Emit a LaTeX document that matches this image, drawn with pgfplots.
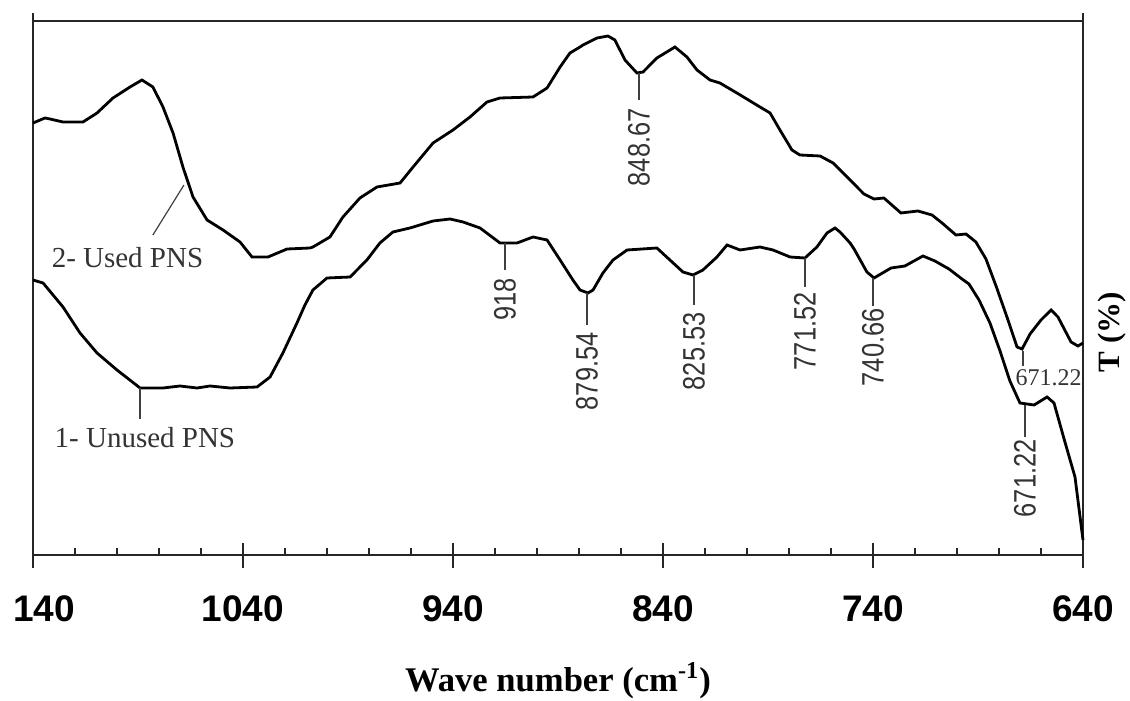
\documentclass[border=0pt]{standalone}
\usepackage{fontspec}
\setmainfont{Liberation Serif}
\newfontfamily\tickfont{Liberation Sans}
\newfontfamily\peakfont[FakeStretch=0.82]{Liberation Sans}
\usepackage{pgfplots}
\pgfplotsset{compat=1.18}
\begin{document}
\begin{tikzpicture}
\path[use as bounding box] (-16.5pt,-73pt) rectangle (548.5pt,277.5pt);
\begin{axis}[
  at={(0pt,0pt)}, anchor=south west,
  scale only axis, width=525pt, height=271pt,
  xmin=640, xmax=1140, ymin=0, ymax=542, x dir=reverse,
  axis x line*=bottom, axis y line*=box,
  xtick={640,740,840,940,1040,1140},
  xticklabels={640,740,840,940,1040,\hspace{11pt}140},
  minor x tick num=4,
  ytick=\empty,
  tick align=center,
  major tick length=12.5pt, minor tick length=3.5pt,
  minor tick style={yshift=1.75pt},
  axis line style={line width=1pt, black!85},
  every tick/.style={line width=0.8pt, black!85},
  xticklabel style={font=\tickfont\bfseries\fontsize{18.5}{21}\selectfont, inner sep=0pt, anchor=north, yshift=-14pt},
  clip=false,
]
% 2- Used PNS
\addplot[black, line width=1.4pt] coordinates {
(1140,432) (1134.3,437) (1131.9,436) (1125.7,433) (1116.2,433) (1109.5,442) (1101.9,457)
(1093.8,468) (1088.1,475) (1082.9,468) (1078.1,448) (1073.3,422) (1068.6,388) (1063.8,358)
(1057.1,335) (1049.5,325) (1041.4,313) (1035.7,298) (1028.1,298) (1019.0,306) (1008.1,307)
(1006.7,308) (998.6,318) (992.4,338) (984.3,357) (976.2,368) (965.2,372) (959.0,388)
(949.5,412) (940.0,425) (931.9,438) (923.8,453) (917.6,457) (901.9,458) (895.2,467)
(889.0,488) (884.3,502) (879.5,508) (878.1,510) (871.4,517) (866.2,519) (862.9,515)
(858.1,495) (852.4,482) (849.5,483) (842.9,497) (834.3,508) (828.6,498) (823.8,485)
(817.6,475) (812.9,472) (804.8,462) (793.8,448) (789.0,442) (784.3,425) (778.6,405)
(774.8,400) (765.2,399) (759.0,392) (755.7,385) (750.9,375) (744.3,361) (739.5,356)
(734.8,357) (726.7,342) (718.6,344) (711.9,340) (707.1,332) (700.5,320) (695.7,321)
(691.0,313) (686.2,296) (681.4,269) (676.2,238) (671.4,208) (669.0,206) (665.2,221)
(660.0,235) (655.2,245) (651.9,238) (645.7,213) (642.4,209) (640,212)
};
% 1- Unused PNS
\addplot[black, line width=1.4pt] coordinates {
(1140,275) (1135.2,272) (1125.7,248) (1117.6,222) (1109.5,202) (1100.0,185) (1089.0,167)
(1078.1,167) (1070.0,169) (1061.9,167) (1055.7,169) (1046.2,167) (1033.3,168) (1027.1,178)
(1021.0,202) (1014.3,232) (1010.5,250) (1006.7,265) (1000.0,277) (989.0,278) (981.0,295)
(974.8,312) (968.6,323) (960.5,327) (949.5,334) (941.4,336) (935.2,333) (927.1,327)
(917.6,312) (909.5,312) (901.9,318) (895.2,315) (889.0,295) (882.9,275) (879.5,265)
(875.7,262) (873.3,265) (868.6,282) (863.8,295) (857.1,305) (842.9,307) (836.7,295)
(830.5,283) (825.7,280) (821.0,285) (814.3,298) (809.5,310) (803.3,305) (793.8,308)
(787.6,305) (779.5,298) (772.4,297) (766.7,308) (761.9,322) (758.1,327) (755.7,323)
(750.9,312) (749.0,306) (742.9,283) (739.5,277) (731.4,287) (724.8,289) (716.2,299)
(710.5,294) (703.8,286) (697.6,276) (694.3,271) (689.5,255) (684.3,232) (679.5,204)
(674.8,174) (670.0,152) (663.3,150) (657.1,158) (653.8,152) (649.0,116) (643.8,78)
(640,15)
};
% top frame line
\draw[line width=1pt, black!85] (axis cs:1140,534) -- (axis cs:640,534);
% annotation leaders
\begin{scope}[line width=0.6pt, black!75]
\draw (axis cs:1068.1,370) -- (axis cs:1082.9,320);
\draw (axis cs:1089.0,167) -- (axis cs:1089.0,136);
\draw (axis cs:851.4,482) -- (axis cs:851.4,455);
\draw (axis cs:915.2,312) -- (axis cs:915.2,285);
\draw (axis cs:876.2,262) -- (axis cs:876.2,230);
\draw (axis cs:825.2,280) -- (axis cs:825.2,250);
\draw (axis cs:772.4,297) -- (axis cs:772.4,268);
\draw (axis cs:740.0,277) -- (axis cs:740.0,249);
\draw (axis cs:667.6,150) -- (axis cs:667.6,118);
\draw (axis cs:668.6,204) -- (axis cs:668.6,189);
\end{scope}
\begin{scope}[black!80, inner sep=0pt]
\node[font=\fontsize{14.5}{17}\selectfont] at (axis cs:1095,297) {2- Used PNS};
\node[font=\fontsize{14.5}{17}\selectfont] at (axis cs:1086.7,117) {1- Unused PNS};
\node[font=\peakfont\fontsize{15.5}{18}\selectfont, rotate=90, anchor=east] at (axis cs:851.4,447) {848.67};
\node[font=\peakfont\fontsize{15.5}{18}\selectfont, rotate=90, anchor=east] at (axis cs:915.2,277) {918};
\node[font=\peakfont\fontsize{15.5}{18}\selectfont, rotate=90, anchor=east] at (axis cs:876.2,223) {879.54};
\node[font=\peakfont\fontsize{15.5}{18}\selectfont, rotate=90, anchor=east] at (axis cs:825.2,243) {825.53};
\node[font=\peakfont\fontsize{15.5}{18}\selectfont, rotate=90, anchor=east] at (axis cs:772.4,263) {771.52};
\node[font=\peakfont\fontsize{15.5}{18}\selectfont, rotate=90, anchor=east] at (axis cs:740.0,247) {740.66};
\node[font=\peakfont\fontsize{15.5}{18}\selectfont, rotate=90, anchor=east] at (axis cs:667.6,116) {671.22};
\node[font=\fontsize{12}{14}\selectfont, anchor=east] at (axis cs:640.5,177) {671.22};
\end{scope}
\node[font=\bfseries\fontsize{15.5}{18}\selectfont, rotate=90] at (axis cs:626.2,223) {T (\%)};
\node[font=\bfseries\fontsize{17.3}{20}\selectfont, anchor=base] at (axis cs:890,-136) {Wave number (cm\textsuperscript{-1})};
\end{axis}
\end{tikzpicture}
\end{document}
